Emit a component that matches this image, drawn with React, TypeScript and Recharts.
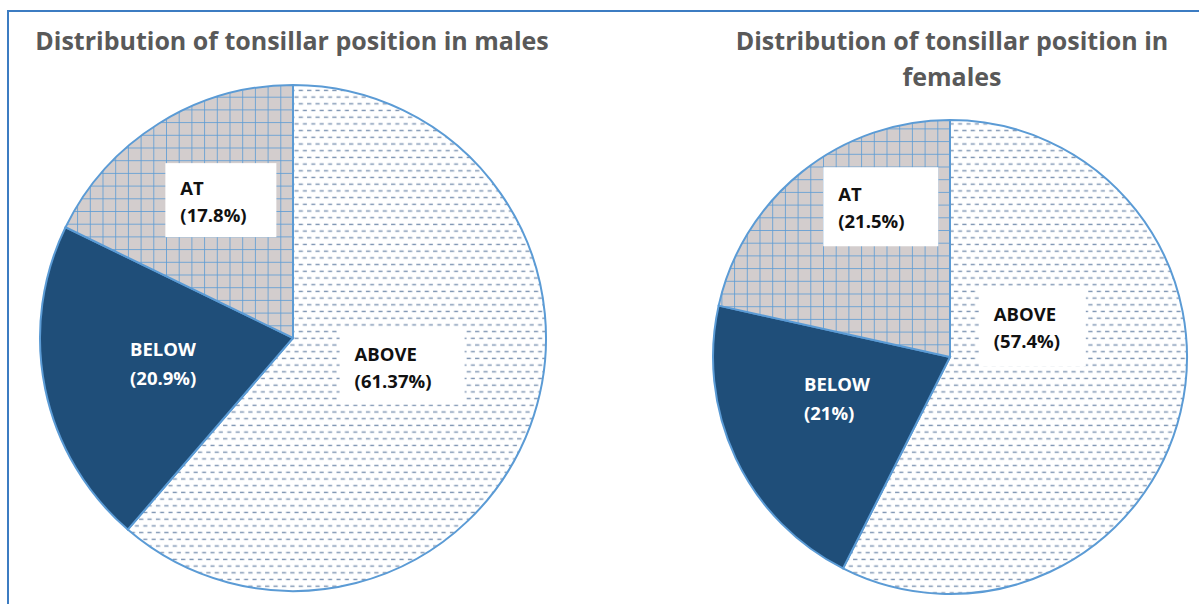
import React from 'react';
import { PieChart, Pie, Cell } from 'recharts';

// slice order follows the reference: clockwise from 12 o'clock
const categories = ['ABOVE', 'BELOW', 'AT'];
const maleValues = [61.37, 20.9, 17.8];
const femaleValues = [57.4, 21, 21.5];
const maleTitle = ['Distribution of tonsillar position in males'];
const femaleTitle = ['Distribution of tonsillar position in', 'females'];

const FONT = '"Open Sans", "Liberation Sans", sans-serif';
const EDGE = '#5B9BD5';
const NAVY = '#1F4E79';

const maleData = categories.map((name, i) => ({ name, value: maleValues[i] }));
const femaleData = categories.map((name, i) => ({ name, value: femaleValues[i] }));

// where each label sits, in polar terms around the slice's mid angle
const labelLayout: Record<string, Record<string, { rf: number; da: number; box?: [number, number] }>> = {
  male: {
    AT: { rf: 0.615, da: -4.4, box: [111, 74] },
    ABOVE: { rf: 0.446, da: 5.6, box: [125, 75] },
    BELOW: { rf: 0.511, da: -0.7 },
  },
  female: {
    AT: { rf: 0.698, da: -14, box: [115, 79] },
    ABOVE: { rf: 0.371, da: 34, box: [107, 80] },
    BELOW: { rf: 0.494, da: -5.3 },
  },
};

const RAD = Math.PI / 180;

const makeLabel = (key: string) => (props: any) => {
  const { cx, cy, midAngle, outerRadius, name, value } = props;
  const lay = labelLayout[key][name];
  const a = (midAngle + lay.da) * RAD;
  const x = cx + outerRadius * lay.rf * Math.cos(a);
  const y = cy - outerRadius * lay.rf * Math.sin(a);
  const txt = { fontFamily: FONT, fontWeight: 700, fontSize: 18.5 } as const;
  if (!lay.box) {
    return (
      <g>
        <text x={x - 36} y={y - 14} fill="#fff" dominantBaseline="central" style={txt}>{name}</text>
        <text x={x - 36} y={y + 15} fill="#fff" dominantBaseline="central" style={txt}>({value}%)</text>
      </g>
    );
  }
  const [w, h] = lay.box;
  return (
    <g>
      <rect x={x - w / 2} y={y - h / 2} width={w} height={h} fill="#fff" />
      <text x={x - w / 2 + 15} y={y - 13} fill="#111" dominantBaseline="central" style={txt}>{name}</text>
      <text x={x - w / 2 + 15} y={y + 14} fill="#111" dominantBaseline="central" style={txt}>({value}%)</text>
    </g>
  );
};

const fillFor = (name: string, grid: string) =>
  name === 'ABOVE' ? 'url(#dashes)' : name === 'BELOW' ? NAVY : `url(#${grid})`;

const GridPattern = ({ id, ox, oy }: { id: string; ox: number; oy: number }) => (
  <pattern id={id} patternUnits="userSpaceOnUse" width={12.7} height={12.7} x={ox} y={oy}>
    <rect width={12.7} height={12.7} fill="#D3CDCD" />
    <line x1={0} y1={0} x2={12.7} y2={0} stroke={EDGE} strokeWidth={1.6} />
    <line x1={0} y1={0} x2={0} y2={12.7} stroke={EDGE} strokeWidth={1.6} />
  </pattern>
);

export default function App() {
  return (
    <div style={{ position: 'absolute', left: 0, top: 0, width: 1199, height: 604, background: '#fff', overflow: 'hidden' }}>
      <div
        style={{
          position: 'absolute', left: 7, top: 10, width: 1250, height: 650,
          borderTop: '2.5px solid #3C7CC2', borderLeft: '2.5px solid #3C7CC2',
        }}
      />
      <PieChart width={1199} height={604} margin={{ top: 0, right: 0, bottom: 0, left: 0 }}
        style={{ position: 'absolute', left: 0, top: 0 }}>
        <defs>
          <pattern id="dashes" patternUnits="userSpaceOnUse" width={8.4} height={13.4}>
            <rect width={8.4} height={13.4} fill="#fff" />
            <line x1={0.5} y1={3.3} x2={4.5} y2={3.3} stroke="#7D94B2" strokeWidth={1.4} />
            <line x1={4.7} y1={10} x2={8.4} y2={10} stroke="#7D94B2" strokeWidth={1.4} />
            <line x1={0} y1={10} x2={0.5} y2={10} stroke="#7D94B2" strokeWidth={1.4} />
          </pattern>
          <GridPattern id="gridM" ox={293} oy={338} />
          <GridPattern id="gridF" ox={950} oy={357} />
        </defs>
        {maleTitle.map((t, i) => (
          <text key={t} x={292} y={50 + i * 36} textAnchor="middle" fill="#595959"
            style={{ fontFamily: FONT, fontWeight: 700, fontSize: 25 }}>{t}</text>
        ))}
        {femaleTitle.map((t, i) => (
          <text key={t} x={952} y={50 + i * 36} textAnchor="middle" fill="#595959"
            style={{ fontFamily: FONT, fontWeight: 700, fontSize: 25 }}>{t}</text>
        ))}
        <Pie
          data={maleData}
          dataKey="value"
          nameKey="name"
          cx={293}
          cy={338}
          outerRadius={253}
          startAngle={90}
          endAngle={-270}
          stroke={EDGE}
          strokeWidth={2}
          label={makeLabel('male')}
          labelLine={false}
          isAnimationActive={false}
        >
          {maleData.map((d) => <Cell key={d.name} fill={fillFor(d.name, 'gridM')} />)}
        </Pie>
        <Pie
          data={femaleData}
          dataKey="value"
          nameKey="name"
          cx={950}
          cy={357}
          outerRadius={237}
          startAngle={90}
          endAngle={-270}
          stroke={EDGE}
          strokeWidth={2}
          label={makeLabel('female')}
          labelLine={false}
          isAnimationActive={false}
        >
          {femaleData.map((d) => <Cell key={d.name} fill={fillFor(d.name, 'gridF')} />)}
        </Pie>
      </PieChart>
    </div>
  );
}
